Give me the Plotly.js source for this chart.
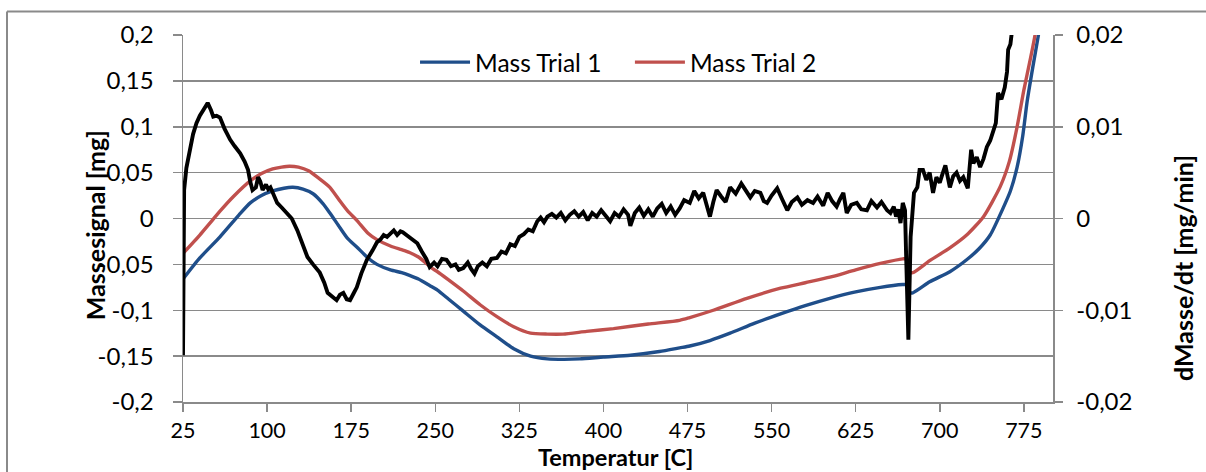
<!DOCTYPE html>
<html>
<head>
<meta charset="utf-8">
<script src="https://cdn.plot.ly/plotly-3.0.1.min.js"></script>
<style>html,body{margin:0;padding:0;background:#fff}#chart{width:1206px;height:472px}</style>
</head>
<body>
<div id="chart"></div>
<script>
// ---- data ----
const trial1Temp = [25,40,58,75,85,95,105,115,123,132,141,150,156,165,172,180,190,198,210,220,227,235,245,252,262,275,290,305,320,335,350,365,379,400,424,450,468,477,495,513,535,558,580,602,625,647,667,670,672,676,691,709,724,735,745,756,763,769,774,778,783,788,792];
const trial1Mass = [-0.066,-0.043,-0.020,0.004,0.017,0.025,0.030,0.033,0.034,0.032,0.027,0.016,0.006,-0.010,-0.022,-0.031,-0.043,-0.050,-0.056,-0.059,-0.062,-0.066,-0.073,-0.078,-0.088,-0.101,-0.116,-0.129,-0.142,-0.150,-0.153,-0.1535,-0.153,-0.151,-0.149,-0.145,-0.141,-0.139,-0.133,-0.125,-0.114,-0.104,-0.095,-0.087,-0.080,-0.075,-0.072,-0.072,-0.080,-0.081,-0.069,-0.058,-0.045,-0.033,-0.018,0.010,0.030,0.056,0.090,0.128,0.165,0.200,0.230];

const trial2Temp = [25,40,49,58,70,85,95,105,113,120,128,137,146,156,165,172,180,190,198,210,220,227,235,248,252,262,275,290,305,320,335,350,364,385,409,440,468,477,498,528,558,580,602,625,647,667,670,672,676,691,709,724,739,754,762,769,775,781,785,790];
const trial2Mass = [-0.038,-0.018,-0.005,0.008,0.024,0.041,0.049,0.054,0.056,0.057,0.056,0.052,0.044,0.034,0.019,0.008,-0.002,-0.016,-0.023,-0.030,-0.034,-0.037,-0.042,-0.055,-0.058,-0.067,-0.079,-0.094,-0.107,-0.118,-0.125,-0.126,-0.126,-0.123,-0.120,-0.115,-0.111,-0.108,-0.100,-0.087,-0.076,-0.070,-0.064,-0.056,-0.049,-0.044,-0.044,-0.058,-0.059,-0.046,-0.032,-0.018,0.002,0.035,0.062,0.100,0.140,0.175,0.200,0.240];

const derivTemp = [25,25.5,26,28,31,34,37,40,44,47,50,52,55,58,62,67,71,76,80,83,85,87,90,92,94,96,99,101,103,106,109,113,118,122,127,131,136,141,147,151,154,158,162,165,168,171,174,177,180,184,189,194,198,201,204,207,210,213,216,219,221,225,229,234,238,242,245,249,252,256,260,264,268,271,275,279,282,285,288,292,296,300,305,309,313,317,321,325,329,333,337,341,344,347,350,354,358,362,366,370,374,378,382,386,390,394,398,402,406,410,414,418,422,424,428,432,436,440,444,448,452,456,460,464,468,472,477,481,485,489,492,495,498,501,505,509,513,518,523,527,531,535,540,543,546,550,555,559,564,568,573,577,582,587,591,596,600,604,608,611,614,617,621,626,630,635,639,644,648,653,656,659,661,663,665,667,669,670,672,674,677,680,682,685,688,691,694,697,700,702,705,709,712,715,718,721,725,728,730,733,736,739,742,745,748,750,752,755,758,760,761,763,764,768];
const derivSignal = [-0.0149,-0.0050,0.0031,0.0055,0.0075,0.0092,0.0104,0.0112,0.0120,0.0126,0.0118,0.0111,0.0112,0.0110,0.0098,0.0086,0.0079,0.0071,0.0062,0.0053,0.0040,0.0031,0.0034,0.0045,0.0040,0.0031,0.0037,0.0032,0.0034,0.0024,0.0017,0.0012,0.0006,0.0000,-0.0013,-0.0025,-0.0042,-0.0050,-0.0059,-0.0070,-0.0081,-0.0085,-0.0089,-0.0083,-0.0081,-0.0088,-0.0089,-0.0082,-0.0075,-0.0060,-0.0045,-0.0035,-0.0026,-0.0023,-0.0018,-0.0020,-0.0016,-0.0013,-0.0018,-0.0014,-0.0015,-0.0019,-0.0022,-0.0027,-0.0036,-0.0044,-0.0053,-0.0048,-0.0052,-0.0044,-0.0045,-0.0052,-0.0050,-0.0056,-0.0054,-0.0048,-0.0055,-0.0060,-0.0052,-0.0048,-0.0052,-0.0044,-0.0043,-0.0036,-0.0038,-0.0028,-0.0030,-0.0020,-0.0017,-0.0012,-0.0014,-0.0003,0.0001,-0.0004,0.0002,0.0005,0.0001,0.0006,-0.0002,0.0004,0.0008,0.0002,0.0007,-0.0002,0.0006,0.0002,0.0009,0.0003,-0.0003,0.0006,0.0002,0.0010,0.0004,-0.0008,0.0006,0.0012,0.0003,0.0010,0.0002,0.0011,0.0016,0.0006,0.0013,0.0004,0.0011,0.0020,0.0017,0.0030,0.0022,0.0028,0.0015,0.0002,0.0018,0.0031,0.0024,0.0018,0.0034,0.0027,0.0038,0.0030,0.0023,0.0030,0.0028,0.0019,0.0017,0.0025,0.0033,0.0022,0.0009,0.0018,0.0023,0.0015,0.0020,0.0017,0.0024,0.0014,0.0028,0.0019,0.0013,0.0021,0.0028,0.0006,0.0015,0.0017,0.0010,0.0009,0.0019,0.0012,0.0018,0.0009,0.0006,0.0013,0.0002,0.0010,-0.0005,0.0017,0.0009,-0.0040,-0.0132,-0.0020,0.0028,0.0034,0.0053,0.0053,0.0042,0.0050,0.0028,0.0045,0.0039,0.0047,0.0058,0.0034,0.0046,0.0050,0.0041,0.0045,0.0033,0.0075,0.0060,0.0067,0.0056,0.0065,0.0078,0.0085,0.0096,0.0104,0.0137,0.0130,0.0143,0.0160,0.0184,0.0190,0.0200,0.0230];

const xTickVals = [25,100,175,250,325,400,475,550,625,700,775];
const xTickText = ['25','100','175','250','325','400','475','550','625','700','775'];
const yTickVals = [0.2,0.15,0.1,0.05,0,-0.05,-0.1,-0.15,-0.2];
const yTickText = ['0,2','0,15','0,1','0,05','0','-0,05','-0,1','-0,15','-0,2'];
const y2TickVals = [0.02,0.01,0,-0.01,-0.02];
const y2TickText = ['0,02','0,01','0','-0,01','-0,02'];

const FONT = 'Lato, "Open Sans", sans-serif';
const GRAY = '#8a8a8a';

const traces = [
  {x: trial1Temp, y: trial1Mass, type: 'scatter', mode: 'lines', name: 'Mass Trial 1', legend: 'legend',
   line: {color: '#1F4E8A', width: 3.4, shape: 'spline', smoothing: 0.6}},
  {x: trial2Temp, y: trial2Mass, type: 'scatter', mode: 'lines', name: 'Mass Trial 2', legend: 'legend2',
   line: {color: '#C0504D', width: 3.4, shape: 'spline', smoothing: 0.6}},
  {x: derivTemp, y: derivSignal, type: 'scatter', mode: 'lines', name: 'dMasse/dt', yaxis: 'y2',
   showlegend: false, line: {color: '#000000', width: 3.9}}
];

const titleFont = {family: FONT, size: 25, weight: 700, color: '#000'};
const legendFont = {family: FONT, size: 24.5, color: '#000'};

const layout = {
  width: 1206, height: 472,
  margin: {l: 183, r: 153, t: 35, b: 70, pad: 0},
  paper_bgcolor: '#ffffff', plot_bgcolor: '#ffffff',
  font: {family: FONT, size: 22, color: '#000000'},
  showlegend: true,
  legend: {orientation: 'h', x: 0.2667, y: 0.926, xanchor: 'left', yanchor: 'middle',
           bgcolor: 'rgba(0,0,0,0)', font: legendFont, itemwidth: 50},
  legend2: {orientation: 'h', x: 0.5137, y: 0.926, xanchor: 'left', yanchor: 'middle',
           bgcolor: 'rgba(0,0,0,0)', font: legendFont, itemwidth: 50},
  xaxis: {range: [25, 801], tickmode: 'array', tickvals: xTickVals, ticktext: xTickText,
          showgrid: false, zeroline: false, showline: true, linecolor: GRAY, linewidth: 1.5,
          ticks: 'outside', ticklen: 8, tickwidth: 1.5, tickcolor: GRAY, ticklabelstandoff: 1,
          tickfont: {family: FONT, size: 21.5}},
  yaxis: {range: [-0.2, 0.2], tickmode: 'array', tickvals: yTickVals, ticktext: yTickText,
          showgrid: true, gridcolor: GRAY, gridwidth: 1.5, zeroline: false,
          showline: true, linecolor: GRAY, linewidth: 1.5,
          ticks: 'outside', ticklen: 9, tickwidth: 1.5, tickcolor: GRAY, ticklabelstandoff: 14,
          tickfont: {family: FONT, size: 24}},
  yaxis2: {range: [-0.02, 0.02], overlaying: 'y', side: 'right', tickmode: 'array',
           tickvals: y2TickVals, ticktext: y2TickText, showgrid: false, zeroline: false,
           showline: true, linecolor: GRAY, linewidth: 1.5,
           ticks: 'outside', ticklen: 8, tickwidth: 1.5, tickcolor: GRAY, ticklabelstandoff: 9,
           tickfont: {family: FONT, size: 24}},
  annotations: [
    {text: 'Massesignal [mg]', xref: 'paper', yref: 'paper', x: -0.1011, y: 0.482,
     textangle: -90, showarrow: false, xanchor: 'center', yanchor: 'middle', font: titleFont},
    {text: 'dMasse/dt [mg/min]', xref: 'paper', yref: 'paper', x: 1.1494, y: 0.365,
     textangle: -90, showarrow: false, xanchor: 'center', yanchor: 'middle', font: titleFont},
    {text: 'Temperatur [C]', xref: 'paper', yref: 'paper', x: 0.4977, y: -0.151,
     showarrow: false, xanchor: 'center', yanchor: 'middle', font: {family: FONT, size: 23.5, weight: 700, color: '#000'}}
  ],
  shapes: [
    {type: 'line', xref: 'paper', yref: 'paper', x0: -0.2023, x1: 1.2, y0: 1.064, y1: 1.064,
     line: {color: GRAY, width: 2}},
    {type: 'line', xref: 'paper', yref: 'paper', x0: -0.2023, x1: -0.2023, y0: 1.064, y1: -0.25,
     line: {color: GRAY, width: 2}}
  ]
};

Plotly.newPlot('chart', traces, layout, {displayModeBar: false, staticPlot: true});
</script>
</body>
</html>
